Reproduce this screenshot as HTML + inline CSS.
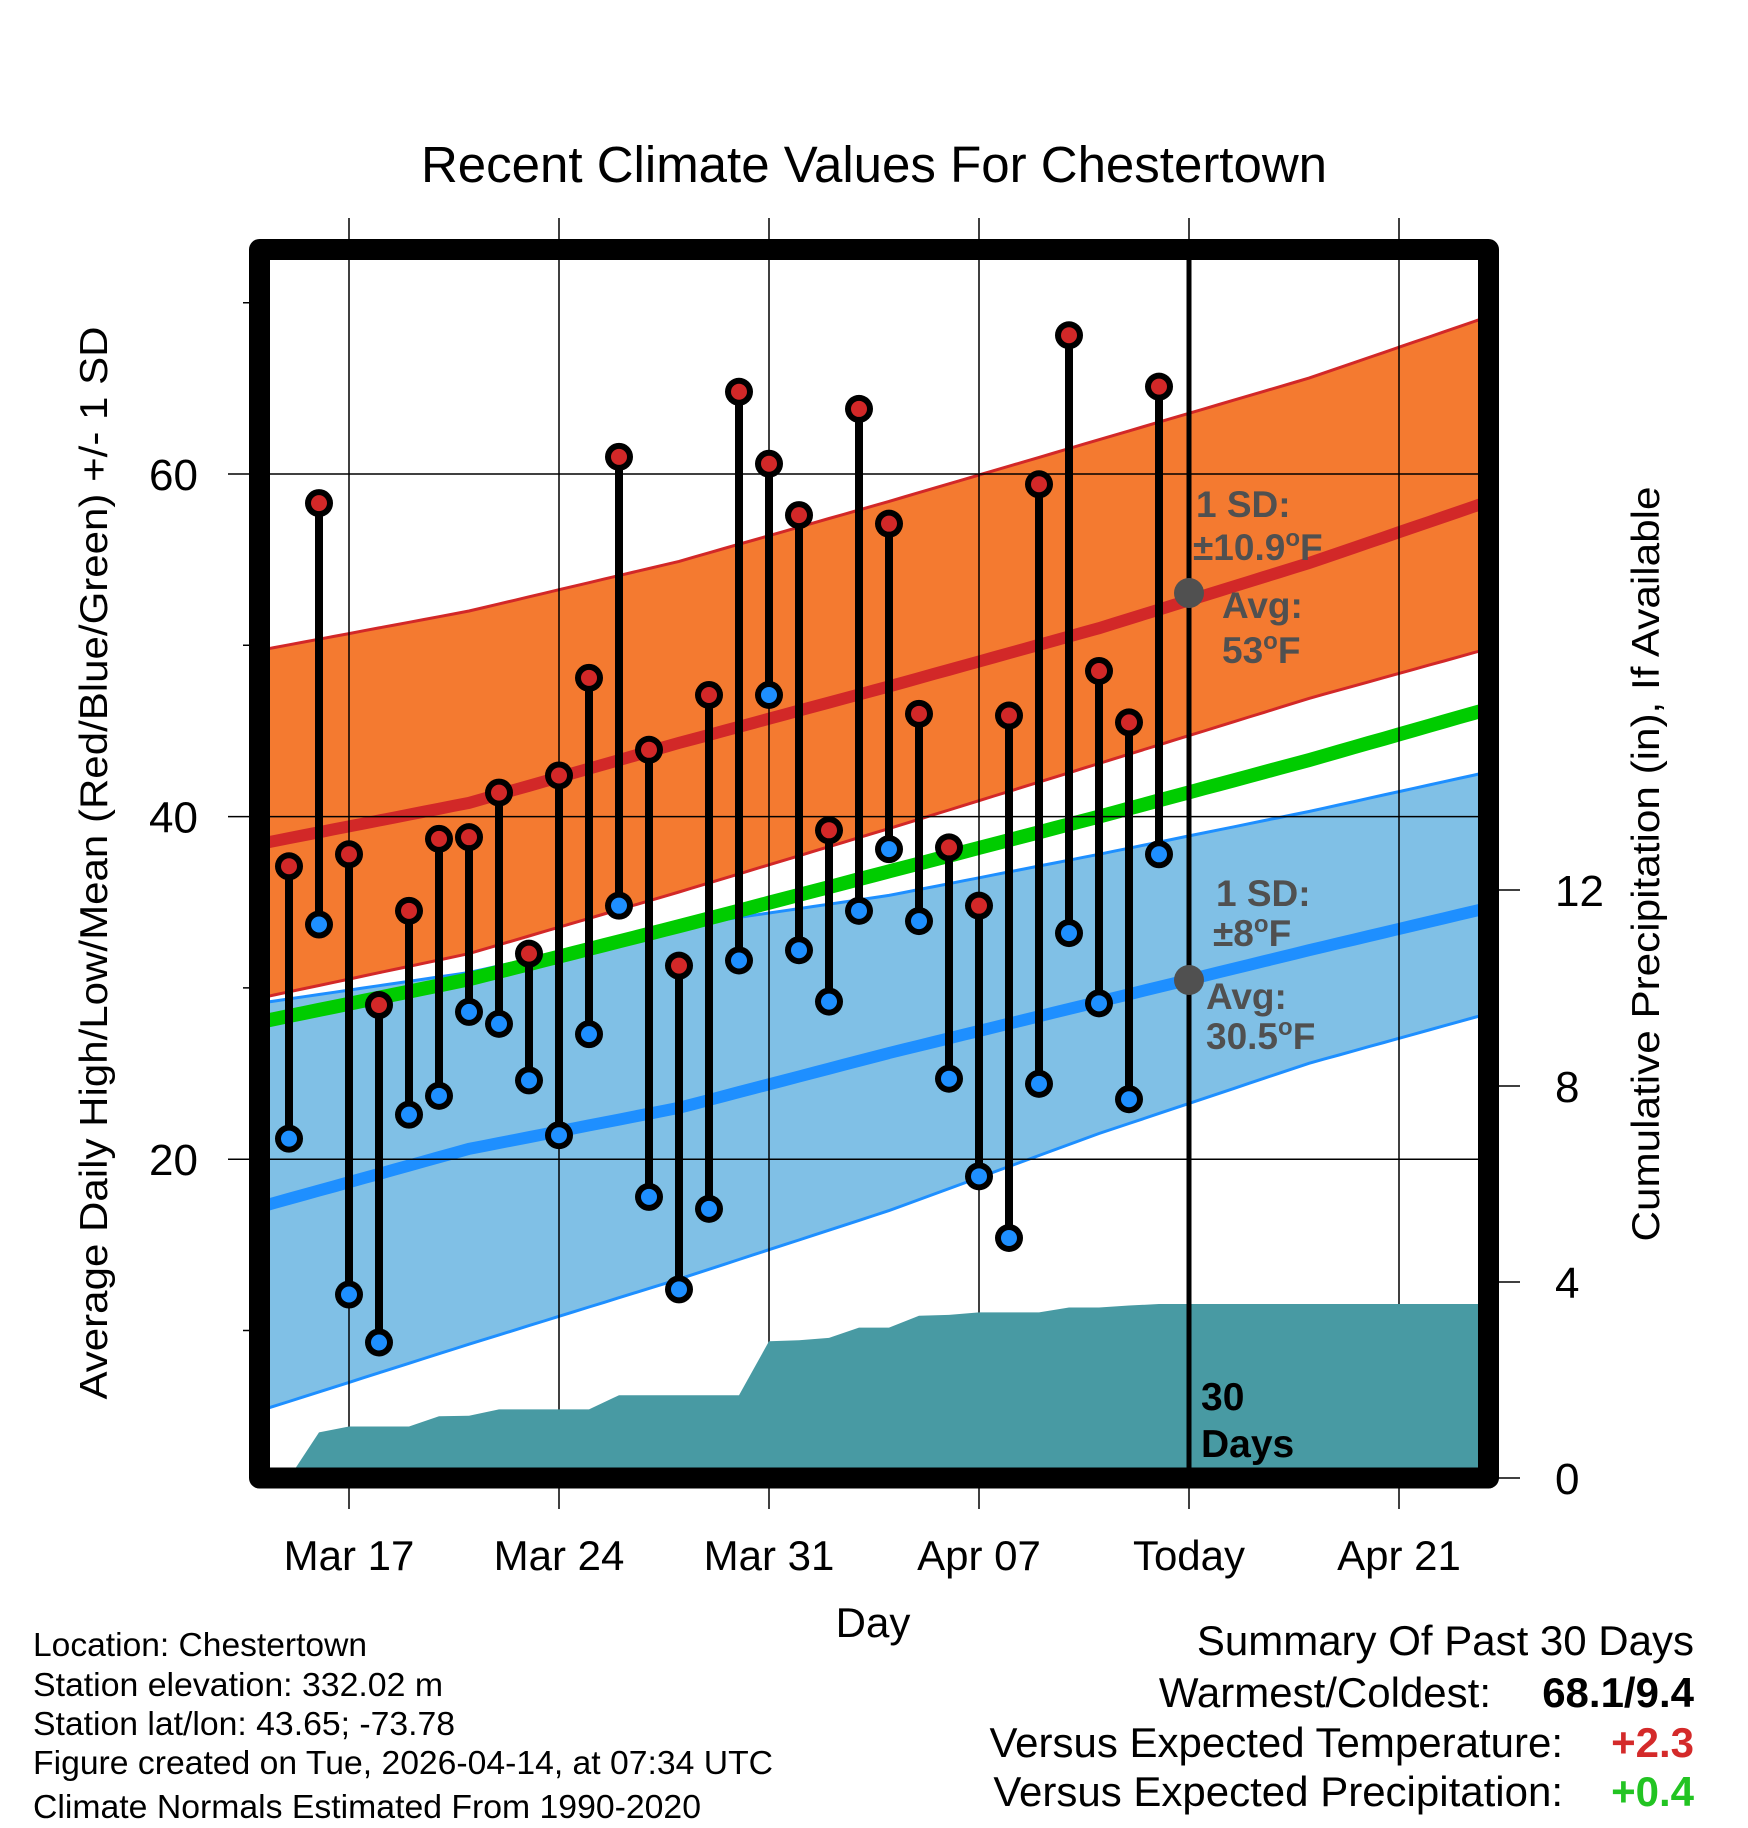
<!DOCTYPE html>
<html><head><meta charset="utf-8"><style>
html,body{margin:0;padding:0;background:#fff;}
svg{display:block;font-family:"Liberation Sans",Arial,sans-serif;}
</style></head><body>
<svg id="chart" width="1748" height="1828" viewBox="0 0 1748 1828" xmlns="http://www.w3.org/2000/svg">
<defs><clipPath id="plotclip"><rect x="270" y="260" width="1208" height="1208"/></clipPath></defs>
<text x="874" y="182" font-size="51" text-anchor="middle">Recent Climate Values For Chestertown</text>
<g id="plot" clip-path="url(#plotclip)"></g>
<g id="axes"></g>
<g id="over" clip-path="url(#plotclip)"></g>
<text transform="translate(107,863) rotate(-90)" font-size="39" text-anchor="middle" textLength="1073" lengthAdjust="spacingAndGlyphs">Average Daily High/Low/Mean (Red/Blue/Green) +/- 1 SD</text>
<text transform="translate(1659,864) rotate(-90)" font-size="39" text-anchor="middle" textLength="755" lengthAdjust="spacingAndGlyphs">Cumulative Precipitation (in), If Available</text>
<text x="873" y="1637" font-size="42" text-anchor="middle">Day</text>
<g font-size="33">
<text x="33" y="1656" textLength="334" lengthAdjust="spacingAndGlyphs">Location: Chestertown</text>
<text x="33" y="1696" textLength="410" lengthAdjust="spacingAndGlyphs">Station elevation: 332.02 m</text>
<text x="33" y="1735" textLength="422" lengthAdjust="spacingAndGlyphs">Station lat/lon: 43.65; -73.78</text>
<text x="33" y="1774" textLength="740" lengthAdjust="spacingAndGlyphs">Figure created on Tue, 2026-04-14, at 07:34 UTC</text>
<text x="33" y="1818" textLength="668" lengthAdjust="spacingAndGlyphs">Climate Normals Estimated From 1990-2020</text>
</g>
<g font-size="42" text-anchor="end">
<text x="1694" y="1655">Summary Of Past 30 Days</text>
<text x="1491" y="1707">Warmest/Coldest:</text>
<text x="1694" y="1707" font-weight="bold">68.1/9.4</text>
<text x="1563" y="1757">Versus Expected Temperature:</text>
<text x="1694" y="1757" font-weight="bold" fill="#D42A2A">+2.3</text>
<text x="1563" y="1806">Versus Expected Precipitation:</text>
<text x="1694" y="1806" font-weight="bold" fill="#22C422">+0.4</text>
</g>
<g fill="#505050" font-weight="bold" font-size="37">
<circle cx="1189" cy="593" r="15" fill="#505050"/>
<text x="1196" y="517">1 SD:</text>
<text x="1193" y="560">±10.9<tspan font-size="24" dy="-14">o</tspan><tspan dy="14">F</tspan></text>
<text x="1222" y="618">Avg:</text>
<text x="1222" y="663">53<tspan font-size="24" dy="-14">o</tspan><tspan dy="14">F</tspan></text>
<circle cx="1189" cy="980" r="15" fill="#505050"/>
<text x="1216" y="906">1 SD:</text>
<text x="1213" y="946">±8<tspan font-size="24" dy="-14">o</tspan><tspan dy="14">F</tspan></text>
<text x="1206" y="1009">Avg:</text>
<text x="1206" y="1049">30.5<tspan font-size="24" dy="-14">o</tspan><tspan dy="14">F</tspan></text>
</g>
<g font-weight="bold" font-size="39" fill="#000">
<text x="1201" y="1410">30</text>
<text x="1201" y="1457">Days</text>
</g>
<rect x="259.5" y="249.5" width="1229" height="1228.5" fill="none" stroke="#000" stroke-width="21" stroke-linejoin="round"/>
</svg>
<script>
// day index 0 = Mar 15
const highs = [37.1,58.3,37.8,29.0,34.5,38.7,38.8,41.4,32.0,42.4,48.1,61.0,43.9,31.3,47.1,64.8,60.6,57.6,39.2,63.8,57.1,46.0,38.2,34.8,45.9,59.4,68.1,48.5,45.5,65.1];
const lows  = [21.2,33.7,12.1,9.3,22.6,23.7,28.6,27.9,24.6,21.4,27.3,34.8,17.8,12.4,17.1,31.6,47.1,32.2,29.2,34.5,38.1,33.9,24.7,19.0,15.4,24.4,33.2,29.1,23.5,37.8];
const precip = [0,0.93,1.05,1.05,1.05,1.26,1.27,1.40,1.40,1.40,1.40,1.69,1.69,1.69,1.69,1.69,2.79,2.81,2.86,3.07,3.07,3.31,3.33,3.38,3.38,3.38,3.48,3.48,3.52,3.55];
const normDays = [-1,6,13,20,27,34,41];
const highUpper = [49.7,52.0,54.9,58.4,62.0,65.6,69.8];
const highMean  = [38.4,40.8,44.3,47.6,51.0,54.8,59.0];
const highLower = [29.4,32.0,35.6,39.3,43.1,46.9,50.3];
const dailyMean = [28.0,30.5,33.6,36.8,40.0,43.3,46.8];
const lowUpper  = [29.1,30.9,33.6,35.4,37.8,40.3,43.0];
const lowMean   = [17.2,20.6,23.0,26.2,29.2,32.2,35.1];
const lowLower  = [5.3,9.2,13.0,17.0,21.5,25.6,29.0];
const xTickDays = [2,9,16,23,30,37];
const xTickLabels = ["Mar 17","Mar 24","Mar 31","Apr 07","Today","Apr 21"];
const yTicks = [20,40,60];
const yMinor = [10,30,50,70];
const pTicks = [0,4,8,12];

const NS="http://www.w3.org/2000/svg";
const X = t => 289 + 30*t;
const Y = v => 474 + (60 - v)*17.13;
const P = p => 1478 - 49*p;
function mk(tag, attrs, parent){const e=document.createElementNS(NS,tag);for(const k in attrs)e.setAttribute(k,attrs[k]);parent.appendChild(e);return e;}
const plot=document.getElementById('plot'), axes=document.getElementById('axes'), over=document.getElementById('over');
function interp(arr,t){const n=normDays.length;for(let i=0;i<n-1;i++){if(t<=normDays[i+1]||i===n-2){const f=(t-normDays[i])/(normDays[i+1]-normDays[i]);return arr[i]+f*(arr[i+1]-arr[i]);}}}
function linePts(arr){const pts=[];for(let t=-1;t<=41;t+=0.5)pts.push(X(t).toFixed(1)+','+Y(interp(arr,t)).toFixed(1));return pts;}
function band(up,lo,fill,name){const p=linePts(up).concat(linePts(lo).reverse());const e=mk('polygon',{points:p.join(' '),fill:fill},plot);

}
function line(arr,color,w,name){const e=mk('polyline',{points:linePts(arr).join(' '),fill:'none',stroke:color,'stroke-width':w},plot);

}
band(highUpper,highLower,'#F47A30','high-sd-band');
line(highUpper,'#D22828',3,'high-upper-line');
line(highLower,'#D22828',3,'high-lower-line');
band(lowUpper,lowLower,'#80C0E6','low-sd-band');
line(lowUpper,'#1E8FFF',3,'low-upper-line');
line(lowLower,'#1E8FFF',3,'low-lower-line');
line(highMean,'#D22828',12,'normal-high-line');
line(dailyMean,'#00CC00',14,'normal-mean-line');
line(lowMean,'#1E8FFF',12,'normal-low-line');
xTickDays.forEach((d,i)=>{const g=mk('line',{x1:X(d),x2:X(d),y1:218,y2:1509,stroke:'#000','stroke-width':1.5},axes);


const t=mk('text',{x:X(d),y:1570,'font-size':42,'text-anchor':'middle'},axes);t.textContent=xTickLabels[i];

});
yTicks.forEach(v=>{const g=mk('line',{x1:228,x2:1478,y1:Y(v),y2:Y(v),stroke:'#000','stroke-width':1.5},axes);


const t=mk('text',{x:198,y:Y(v)+16,'font-size':44,'text-anchor':'end'},axes);t.textContent=v;

});
yMinor.forEach(v=>{const g=mk('line',{x1:243,x2:260,y1:Y(v),y2:Y(v),stroke:'#000','stroke-width':1.5},axes);

});
pTicks.forEach(p=>{const g=mk('line',{x1:1490,x2:1520,y1:P(p),y2:P(p),stroke:'#000','stroke-width':1.5},axes);


const t=mk('text',{x:1555,y:P(p)+16,'font-size':44},axes);t.textContent=p;

});
{const pts=[];precip.forEach((p,i)=>pts.push(X(i)+','+P(p)));pts.push(X(41)+','+P(precip[precip.length-1]));pts.push(X(41)+','+P(0));pts.push(X(0)+','+P(0));
const a=mk('polygon',{points:pts.join(' '),fill:'#489AA3'},over);

}
{const l=mk('line',{x1:X(30),x2:X(30),y1:250,y2:1478,stroke:'#000','stroke-width':5},over);

}
highs.forEach((h,i)=>{const s=mk('line',{x1:X(i),x2:X(i),y1:Y(h),y2:Y(lows[i]),stroke:'#000','stroke-width':8},over);

});
highs.forEach((h,i)=>{const o=mk('circle',{cx:X(i),cy:Y(h),r:14,fill:'#000'},over);


const c=mk('circle',{cx:X(i),cy:Y(h),r:8,fill:'#D22828'},over);


const o2=mk('circle',{cx:X(i),cy:Y(lows[i]),r:14,fill:'#000'},over);


const c2=mk('circle',{cx:X(i),cy:Y(lows[i]),r:8,fill:'#1E8FFF'},over);

});
</script>
</body></html>
